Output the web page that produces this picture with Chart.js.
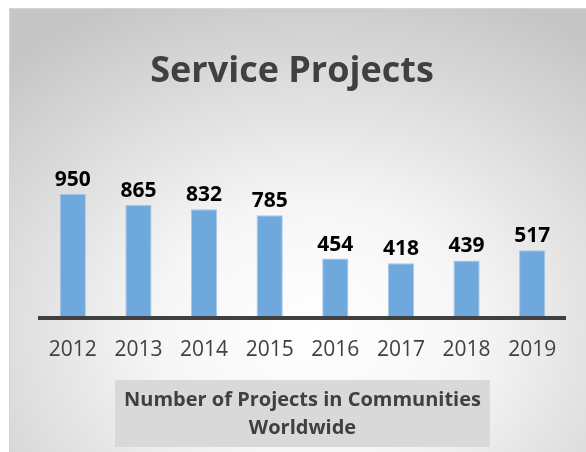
<!DOCTYPE html>
<html>
<head>
<meta charset="utf-8">
<script src="https://cdn.jsdelivr.net/npm/chart.js@4"></script>
<style>
html,body{margin:0;padding:0;background:#fff;}
canvas{display:block;}
</style>
</head>
<body>
<canvas id="c" width="586" height="452"></canvas>
<script>
const categories = ['2012', '2013', '2014', '2015', '2016', '2017', '2018', '2019'];
const projects = [950, 865, 832, 785, 454, 418, 439, 517];
const chartTitle = 'Service Projects';
const axisTitle = ['Number of Projects in Communities', 'Worldwide'];

const FONT = "'Open Sans', 'Noto Sans', sans-serif";

const backgroundPlugin = {
  id: 'bg',
  beforeDraw(chart) {
    const ctx = chart.ctx;
    ctx.save();
    ctx.fillStyle = '#ffffff';
    ctx.fillRect(0, 0, chart.width, chart.height);
    const x0 = 9, y0 = 8, w = chart.width - x0, h = chart.height - y0;
    const cx = 315, cy = 330;
    ctx.save();
    ctx.beginPath();
    ctx.rect(x0, y0, w, h);
    ctx.clip();
    ctx.translate(cx, cy);
    ctx.scale(1.25, 1);
    const g = ctx.createRadialGradient(0, 0, 0, 0, 0, 360);
    g.addColorStop(0, '#ffffff');
    g.addColorStop(0.35, '#f6f6f6');
    g.addColorStop(1, '#c6c6c6');
    ctx.fillStyle = g;
    ctx.fillRect(-cx * 2, -cy * 2, 2000, 2000);
    ctx.restore();
    ctx.strokeStyle = '#d4d4d4';
    ctx.lineWidth = 1;
    ctx.beginPath();
    ctx.moveTo(x0 + 0.5, chart.height);
    ctx.lineTo(x0 + 0.5, y0 + 0.5);
    ctx.lineTo(chart.width, y0 + 0.5);
    ctx.stroke();

    // grey box behind the axis title
    const xs = chart.scales.x;
    const f = Chart.helpers.toFont(xs.options.title.font);
    ctx.font = f.string;
    let tw = 0;
    axisTitle.forEach(t => { tw = Math.max(tw, ctx.measureText(t).width); });
    const bw = tw + 18;
    const bx = (xs.left + xs.right) / 2 - bw / 2;
    const bBottom = xs.bottom - 5;
    const bTop = bBottom - 67;
    ctx.fillStyle = '#d9d9d9';
    ctx.fillRect(bx, bTop, bw, bBottom - bTop);
    ctx.restore();
  }
};

const valueLabels = {
  id: 'valueLabels',
  afterDatasetsDraw(chart) {
    const ctx = chart.ctx;
    const meta = chart.getDatasetMeta(0);
    ctx.save();
    ctx.font = 'bold 21px ' + FONT;
    ctx.fillStyle = '#000000';
    ctx.textAlign = 'center';
    ctx.textBaseline = 'alphabetic';
    meta.data.forEach((bar, i) => {
      ctx.fillText(String(chart.data.datasets[0].data[i]), bar.x, bar.y - 8);
    });
    ctx.restore();
  }
};

new Chart(document.getElementById('c'), {
  type: 'bar',
  data: {
    labels: categories,
    datasets: [{
      data: projects,
      backgroundColor: '#6fa8dc',
      borderColor: '#a7c8ea',
      borderWidth: 1,
      barPercentage: 0.4,
      categoryPercentage: 1
    }]
  },
  options: {
    responsive: false,
    devicePixelRatio: 1,
    animation: false,
    layout: { padding: { left: 19, right: 21, top: 8, bottom: 0 } },
    plugins: {
      legend: { display: false },
      tooltip: { enabled: false },
      title: {
        display: true,
        text: chartTitle,
        color: '#404040',
        font: { family: FONT, size: 36, weight: 'bold', lineHeight: 1.2 },
        padding: { top: 42, bottom: 94 }
      }
    },
    scales: {
      x: {
        grid: { display: false },
        border: { display: true, color: '#404040', width: 4, z: 1 },
        ticks: { color: '#404040', font: { family: FONT, size: 21 }, padding: 12 },
        title: {
          display: true,
          text: axisTitle,
          color: '#404040',
          font: { family: FONT, size: 20, weight: 'bold', lineHeight: 1.4 },
          padding: { top: 11, bottom: 10 }
        }
      },
      y: {
        display: true,
        min: 0,
        max: 1000,
        grid: { display: false },
        border: { display: false },
        ticks: { display: false },
        afterFit(scale) { scale.width = 21; }
      }
    }
  },
  plugins: [backgroundPlugin, valueLabels]
});
</script>
</body>
</html>
